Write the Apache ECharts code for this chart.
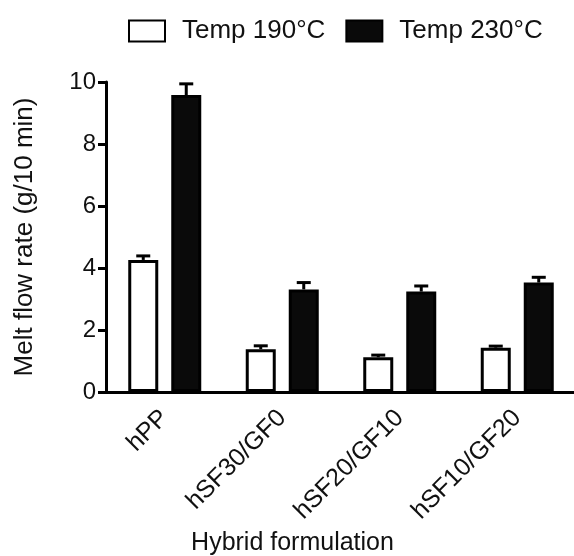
<!DOCTYPE html>
<html>
<head>
<meta charset="utf-8">
<script src="https://cdn.jsdelivr.net/npm/echarts@6/dist/echarts.min.js"></script>
<style>
  html, body { margin: 0; padding: 0; background: #fff; }
  #chart { width: 574px; height: 556px; }
</style>
</head>
<body>
<div id="chart"></div>
<script>
const categories = ['hPP', 'hSF30/GF0', 'hSF20/GF10', 'hSF10/GF20']
const temp190 = [4.26, 1.38, 1.12, 1.43]
const temp190Err = [0.13, 0.11, 0.07, 0.05]
const temp230 = [9.58, 3.31, 3.24, 3.53]
const temp230Err = [0.36, 0.22, 0.18, 0.17]
const yTicks = [0, 2, 4, 6, 8, 10]

const font = '"Liberation Sans", Arial, Helvetica, sans-serif'
const barW = 30
const border = 3
const gap = 10

const chart = echarts.init(document.getElementById('chart'))

// error caps drawn above each bar, offset to the left or right bar of the group
const errorSeries = (vals, errs, side) => ({
  type: 'custom',
  silent: true,
  z: 5,
  data: vals.map((v, i) => [i, v, v + errs[i]]),
  renderItem: (params, api) => {
    const off = side * (barW + border + gap) / 2
    const base = api.coord([api.value(0), api.value(1)])
    const top = api.coord([api.value(0), api.value(2)])
    const x = base[0] + off
    const style = { stroke: '#000', lineWidth: 3 }
    return {
      type: 'group',
      children: [
        { type: 'line', shape: { x1: x, y1: base[1], x2: x, y2: top[1] }, style },
        { type: 'line', shape: { x1: x - 7, y1: top[1], x2: x + 7, y2: top[1] }, style }
      ]
    }
  }
})

const option = {
  animation: false,
  textStyle: { fontFamily: font },
  legend: {
    top: 13,
    left: 123,
    icon: 'rect',
    itemWidth: 36,
    itemHeight: 21,
    itemGap: 20,
    textStyle: { fontSize: 26, color: '#111', padding: [0, 0, 0, 12] },
    data: ['Temp 190°C', 'Temp 230°C']
  },
  grid: { left: 106, right: -2, top: 82, bottom: 164, outerBoundsMode: 'none', containLabel: false },
  xAxis: {
    type: 'category',
    data: categories,
    name: 'Hybrid formulation',
    nameLocation: 'middle',
    nameGap: 136,
    nameTextStyle: { fontSize: 25, color: '#111', padding: [0, 97, 0, 0], verticalAlign: 'top' },
    axisLine: { lineStyle: { color: '#000', width: 3 } },
    axisTick: { alignWithLabel: true, length: 8, lineStyle: { width: 3, color: '#000' } },
    axisLabel: { rotate: 45, fontSize: 25, color: '#111', margin: 22 }
  },
  yAxis: {
    type: 'value',
    min: yTicks[0],
    max: yTicks[yTicks.length - 1],
    interval: 2,
    name: 'Melt flow rate (g/10 min)',
    nameLocation: 'middle',
    nameGap: 68,
    nameTextStyle: { fontSize: 26, color: '#111' },
    splitLine: { show: false },
    axisLine: { show: true, lineStyle: { color: '#000', width: 3 } },
    axisTick: { show: true, length: 8, lineStyle: { width: 3, color: '#000' } },
    axisLabel: { fontSize: 24, color: '#111', margin: 10 }
  },
  series: [
    {
      name: 'Temp 190°C',
      type: 'bar',
      data: temp190,
      barWidth: barW,
      barGap: ((gap + border) / barW * 100) + '%',
      itemStyle: { color: '#fff', borderColor: '#000', borderWidth: border }
    },
    {
      name: 'Temp 230°C',
      type: 'bar',
      data: temp230,
      barWidth: barW,
      itemStyle: { color: '#0a0a0a', borderColor: '#000', borderWidth: border }
    },
    errorSeries(temp190, temp190Err, -1),
    errorSeries(temp230, temp230Err, 1)
  ]
}

chart.setOption(option)
</script>
</body>
</html>
